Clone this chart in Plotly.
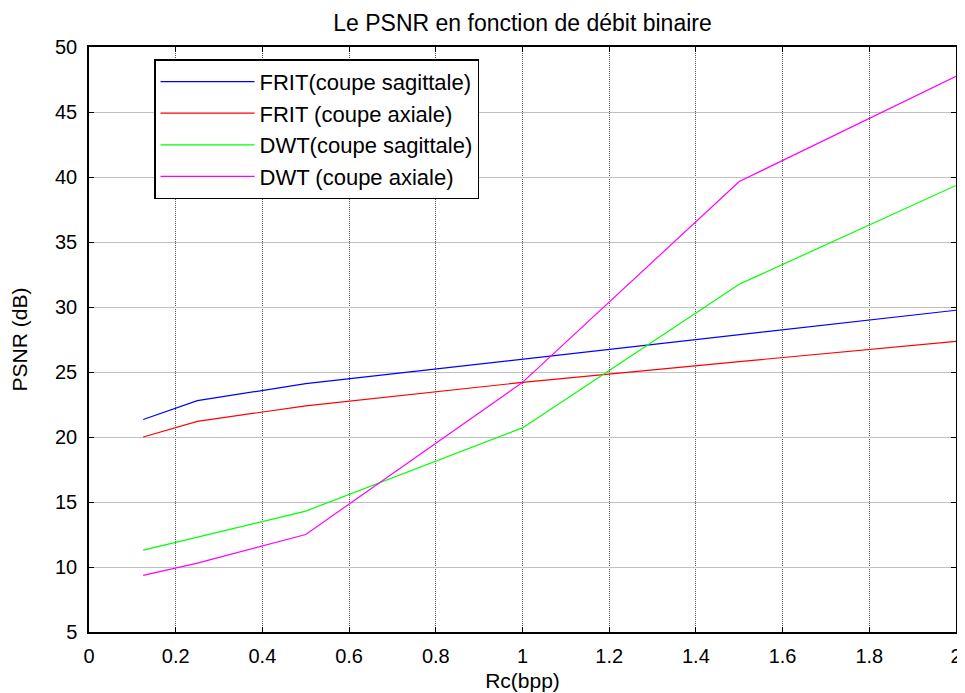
import plotly.graph_objects as go

rates = [0.125, 0.25, 0.5, 1, 1.5, 2]
frit_sag = [21.35, 22.8, 24.1, 26.0, 27.9, 29.75]
frit_ax = [20.0, 21.2, 22.4, 24.2, 25.8, 27.35]
dwt_sag = [11.3, 12.3, 14.3, 20.7, 31.75, 39.35]
dwt_ax = [9.35, 10.3, 12.5, 24.2, 39.65, 47.75]

names = ["FRIT(coupe sagittale)", "FRIT (coupe axiale)", "DWT(coupe sagittale)", "DWT (coupe axiale)"]
colors = ["#0000ff", "#ff0000", "#00ff00", "#ff00ff"]
series = [frit_sag, frit_ax, dwt_sag, dwt_ax]

xticks = [0, 0.2, 0.4, 0.6, 0.8, 1, 1.2, 1.4, 1.6, 1.8, 2]
xticklabels = ["0", "0.2", "0.4", "0.6", "0.8", "1", "1.2", "1.4", "1.6", "1.8", "2"]
yticks = [5, 10, 15, 20, 25, 30, 35, 40, 45, 50]

fig = go.Figure()
for n, c, s in zip(names, colors, series):
    fig.add_trace(go.Scatter(x=rates, y=s, mode="lines", name=n,
                             line=dict(color=c, width=1.2)))

font = "Liberation Sans, Arial, sans-serif"
fig.update_layout(
    width=957, height=685,
    margin=dict(l=81, r=9, t=39, b=61),
    paper_bgcolor="white", plot_bgcolor="white",
    font=dict(family=font, color="black", size=20),
    title=dict(text="Le PSNR en fonction de débit binaire", x=0.5, xanchor="center",
               xref="paper", y=0.99, yanchor="top", yref="container",
               font=dict(size=23)),
    showlegend=True,
    legend=dict(x=0.075, y=0.979, xanchor="left", yanchor="top",
                bordercolor="black", borderwidth=1.5, bgcolor="white",
                font=dict(size=22), itemwidth=94, tracegroupgap=0),
    xaxis=dict(range=[0, 2], tickvals=xticks, ticktext=xticklabels,
               showgrid=True, gridcolor="#555555", griddash="1px,1px", gridwidth=1,
               zeroline=False, showline=True, linecolor="black", linewidth=1.5,
               mirror="ticks", ticks="inside", ticklen=5, tickcolor="black",
               ticklabelstandoff=5, automargin=False,
               title=dict(text="Rc(bpp)", font=dict(size=21), standoff=8),
               tickfont=dict(size=20)),
    yaxis=dict(range=[5, 50], tickvals=yticks,
               showgrid=True, gridcolor="#c0c0c0", gridwidth=1,
               zeroline=False, showline=True, linecolor="black", linewidth=1.5,
               mirror="ticks", ticks="inside", ticklen=5, tickcolor="black",
               ticklabelstandoff=6, automargin=False,
               title=dict(text="PSNR (dB)", font=dict(size=21), standoff=22),
               tickfont=dict(size=20)),
)
fig.write_html("out.html")
